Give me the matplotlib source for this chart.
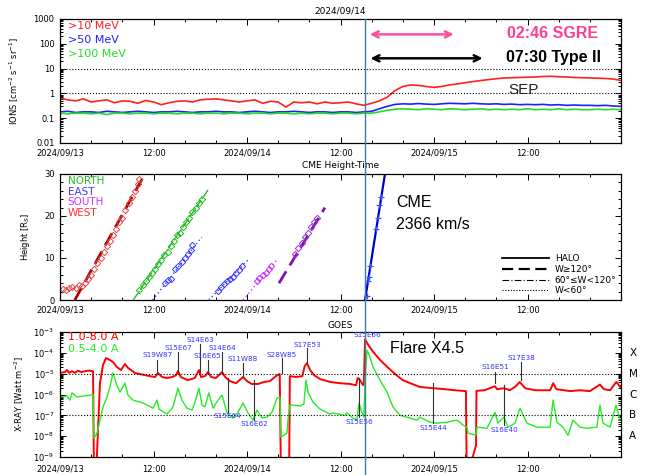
import matplotlib
matplotlib.use("Agg")
import matplotlib.pyplot as plt
from matplotlib.lines import Line2D
from matplotlib.transforms import blended_transform_factory
import numpy as np

# time axis: hours since 2024/09/13 00:00
tick_hours = [0, 12, 24, 36, 48, 60, 72]
tick_labels = ["2024/09/13", "12:00", "2024/09/14", "12:00", "2024/09/15", "12:00", ""]
flare_hour = 39.15

# ---- proton fluxes (hourly) ----
p_hours = list(range(73))
p10 = [0.65, 0.55, 0.5, 0.6, 0.45, 0.5, 0.55, 0.42, 0.5, 0.48, 0.4, 0.52, 0.45, 0.35, 0.42,
       0.48, 0.5, 0.45, 0.55, 0.58, 0.6, 0.55, 0.5, 0.45, 0.5, 0.55, 0.4, 0.48, 0.45, 0.28,
       0.45, 0.42, 0.45, 0.38, 0.45, 0.4, 0.42, 0.45, 0.38, 0.33, 0.4, 0.5, 0.7, 1.3, 1.9,
       2.2, 2.1, 1.9, 1.75, 1.9, 2.2, 2.4, 2.7, 3.0, 3.3, 3.6, 3.9, 4.2, 4.3, 4.4, 4.5, 4.6,
       4.8, 4.9, 4.7, 4.6, 4.4, 4.3, 4.2, 4.1, 4.0, 3.8, 3.3]
p50 = [0.18, 0.19, 0.17, 0.18, 0.18, 0.17, 0.19, 0.18, 0.17, 0.18, 0.19, 0.18, 0.17, 0.18,
       0.18, 0.19, 0.18, 0.17, 0.18, 0.18, 0.19, 0.18, 0.18, 0.17, 0.18, 0.19, 0.18, 0.17,
       0.18, 0.18, 0.19, 0.18, 0.17, 0.18, 0.18, 0.17, 0.18, 0.18, 0.17, 0.18, 0.19, 0.24,
       0.3, 0.36, 0.38, 0.37, 0.39, 0.37, 0.36, 0.38, 0.4, 0.39, 0.38, 0.4, 0.38, 0.37, 0.38,
       0.36, 0.37, 0.35, 0.36, 0.35, 0.36, 0.34, 0.35, 0.33, 0.34, 0.33, 0.33, 0.32, 0.33,
       0.31, 0.3]
p100 = [0.16, 0.15, 0.16, 0.16, 0.15, 0.16, 0.14, 0.16, 0.16, 0.15, 0.16, 0.16, 0.15, 0.16,
        0.16, 0.15, 0.16, 0.16, 0.15, 0.16, 0.16, 0.15, 0.16, 0.16, 0.15, 0.16, 0.16, 0.15,
        0.16, 0.16, 0.15, 0.16, 0.15, 0.16, 0.16, 0.15, 0.16, 0.16, 0.15, 0.16, 0.16, 0.18,
        0.21, 0.23, 0.24, 0.23, 0.22, 0.24, 0.23, 0.22, 0.24, 0.23, 0.22, 0.23, 0.24, 0.22,
        0.23, 0.22, 0.23, 0.22, 0.24, 0.22, 0.23, 0.22, 0.24, 0.22, 0.23, 0.22, 0.22, 0.23,
        0.22, 0.23, 0.22]

# ---- CME height-time ----
west_t = [0.4, 0.8, 1.2, 1.6, 2.0, 2.4, 2.8, 3.2, 3.6, 4.0, 4.4, 4.8, 5.2, 5.6, 6.0, 6.4,
          6.8, 7.2, 7.6, 8.0, 8.4, 8.8, 9.2, 9.6, 10.0, 10.2]
west_h = [2.6, 2.4, 2.9, 3.2, 2.8, 3.5, 3.3, 4.0, 5.0, 6.0, 7.5, 8.8, 10.0, 11.5, 12.8, 14.0,
          15.5, 17.0, 18.5, 19.5, 21.5, 23.0, 24.5, 26.0, 27.5, 28.8]
west_fit = ([1.9, 11.2], [0.0, 31.0])
north_t = [10.2, 10.6, 11.0, 11.4, 11.8, 12.2, 12.6, 13.0, 13.4, 13.8, 14.2, 14.6, 15.0,
           15.4, 15.8, 16.2, 16.6, 17.0, 17.4, 17.8, 18.2]
north_h = [2.5, 3.5, 4.5, 5.5, 6.5, 7.5, 8.5, 9.5, 10.8, 11.5, 12.8, 14.0, 15.5, 16.0, 17.5,
           18.5, 19.5, 21.0, 22.0, 23.0, 24.0]
north_fit = ([9.4, 19.0], [0.0, 26.2])
east1_t = [13.5, 13.8, 14.2, 14.8, 15.2, 15.6, 16.0, 16.4, 16.8, 17.0]
east1_h = [4.0, 4.8, 5.0, 7.5, 8.0, 9.0, 10.0, 11.0, 12.0, 13.0]
east1_fit = ([11.9, 18.2], [0.0, 15.0])
east2_t = [20.3, 20.6, 21.0, 21.4, 21.8, 22.2, 22.6, 23.0, 23.4]
east2_h = [2.2, 3.0, 3.8, 4.5, 5.0, 5.5, 6.5, 7.2, 8.2]
east2_fit = ([19.1, 24.1], [0.0, 9.5])
south_t = [25.3, 25.6, 26.0, 26.4, 26.8, 27.1]
south_h = [4.5, 5.2, 6.0, 6.5, 7.5, 8.2]
south_fit = ([23.5, 27.8], [0.0, 9.5])
wide_t = [30.2, 30.6, 31.0, 31.4, 31.8, 32.2, 32.6, 33.0]
wide_h = [11.0, 12.5, 13.5, 15.0, 16.0, 17.5, 18.5, 19.5]
wide_fit = ([28.1, 34.0], [4.0, 22.0])
halo_t = [39.35, 39.55, 39.65, 39.8, 40.6, 40.8, 41.0, 41.2]
halo_h = [1.0, 4.5, 5.5, 8.0, 17.0, 19.5, 22.5, 24.5]
halo_fit = ([39.15, 41.75], [0.0, 30.5])

# ---- GOES X-ray ----
long_t = [0.0, 0.64, 0.9, 1.16, 1.54, 1.93, 2.31, 2.7, 3.2, 3.72, 4.24, 4.36, 4.62, 5.13,
          5.52, 5.9, 6.42, 6.8, 7.3, 7.83, 8.34, 8.73, 9.63, 10.9, 12.2, 12.58, 13.1, 13.7,
          14.4, 14.9, 15.14, 15.5, 16.4, 17.3, 17.84, 18.1, 18.6, 19.0, 19.4, 20.0, 20.4,
          20.8, 21.2, 21.8, 22.6, 23.2, 23.5, 24.0, 24.6, 25.4, 26.2, 26.95, 27.7, 28.2,
          28.36, 29.4, 29.5, 30.3, 31.1, 31.4, 31.7, 32.1, 32.6, 33.4, 34.65, 35.9, 37.2,
          38.0, 38.2, 38.5, 38.9, 39.0, 39.15, 39.5, 40.2, 41.1, 42.0, 43.0, 44.0, 45.2,
          46.2, 47.9, 49.4, 50.7, 52.1, 52.2, 53.4, 53.45, 54.5, 55.8, 56.1, 57.0, 57.75,
          58.5, 59.0, 59.7, 61.0, 62.9, 63.3, 63.7, 65.5, 66.7, 68.0, 69.3, 69.8, 70.6,
          71.4, 71.9]
long_f = [1.1e-5, 1.2e-5, 1.5e-5, 1.1e-5, 1.3e-5, 1.1e-5, 1.4e-5, 1.2e-5, 1.3e-5, 1.4e-5,
          1.3e-5, 1e-10, 1e-10, 3.5e-6, 2.6e-5, 5.6e-5, 4.5e-5, 3.6e-5, 2.1e-5, 1.5e-5,
          2.9e-5, 1.9e-5, 1.07e-5, 8.5e-6, 6.9e-6, 1.07e-5, 6.9e-6, 6.2e-6, 6.9e-6, 8.5e-6,
          1.33e-5, 6.9e-6, 4.9e-6, 6.2e-6, 1.5e-5, 6.9e-6, 7.6e-6, 1.2e-5, 6.9e-6, 6.2e-6,
          8.5e-6, 1.2e-5, 6.9e-6, 4.4e-6, 3.5e-6, 5.5e-6, 6.9e-6, 4.4e-6, 3.2e-6, 3.2e-6,
          4.0e-6, 4.4e-6, 7.6e-6, 9.6e-6, 1e-10, 1e-10, 7.6e-6, 6.9e-6, 7.6e-6, 2.3e-5,
          3.2e-5, 1.5e-5, 8.5e-6, 5.5e-6, 4.0e-6, 3.5e-6, 3.2e-6, 2.8e-6, 6.2e-6, 4.9e-6,
          2.8e-6, 3.2e-6, 4.5e-4, 2.6e-4, 1.1e-4, 4.5e-5, 2.1e-5, 9.6e-6, 4.9e-6, 3.2e-6,
          2.3e-6, 2.0e-6, 1.8e-6, 1.6e-6, 1.45e-6, 1e-10, 3.7e-9, 1.5e-6, 1.6e-6, 2.5e-6,
          1.8e-6, 2.0e-6, 1.6e-6, 2.5e-6, 4.0e-6, 2.0e-6, 1.6e-6, 1.6e-6, 3.5e-6, 1.8e-6,
          1.45e-6, 1.6e-6, 1.45e-6, 3.0e-6, 1.8e-6, 1.6e-6, 4.0e-6, 2.3e-6]
short_t = [0.0, 0.9, 1.28, 1.54, 2.18, 2.95, 3.85, 4.24, 4.36, 4.75, 5.13, 5.52, 6.03, 6.42,
           6.8, 7.3, 7.7, 8.34, 8.73, 9.37, 10.65, 11.94, 12.45, 12.7, 13.73, 14.5, 15.14,
           15.66, 16.3, 16.94, 17.33, 17.84, 18.22, 18.6, 19.1, 19.64, 20.28, 20.8, 21.43,
           22.2, 22.84, 23.49, 24.13, 24.77, 25.28, 25.92, 26.56, 27.2, 27.85, 28.23, 28.36,
           29.13, 29.26, 29.51, 29.9, 30.8, 31.3, 31.57, 31.83, 32.47, 33.37, 34.65, 35.04,
           36.58, 36.83, 37.6, 38.1, 38.37, 38.75, 39.0, 39.14, 39.4, 39.79, 40.17, 41.07,
           41.97, 42.74, 43.64, 44.92, 45.82, 46.2, 47.49, 48.38, 49.67, 50.95, 51.72, 52.23,
           52.36, 53.39, 53.52, 54.8, 55.83, 56.2, 56.98, 57.5, 58.4, 59.04, 59.93, 61.2,
           62.9, 63.27, 63.78, 64.55, 65.2, 65.84, 66.74, 67.6, 68.9, 69.3, 69.7, 70.6,
           71.36, 71.87]
short_f = [7.5e-7, 8.5e-7, 5.4e-7, 1.2e-6, 7.5e-7, 8.5e-7, 9.3e-7, 1.0e-6, 8e-9, 1.4e-8,
           5.9e-8, 2.5e-7, 7.5e-7, 2.3e-6, 1.07e-5, 2.8e-6, 1.3e-6, 3.5e-6, 9.3e-7, 5.4e-7,
           3.9e-7, 2.2e-7, 5.4e-7, 2.0e-7, 1.15e-7, 2.5e-7, 2.0e-6, 5.4e-7, 2.2e-7, 1.8e-7,
           4.3e-7, 2.0e-6, 3.1e-7, 2.5e-7, 1.2e-6, 2.2e-7, 5.4e-7, 9.3e-7, 1.3e-7, 7.4e-8,
           1.4e-7, 3.9e-7, 1.3e-7, 5.9e-8, 1.8e-7, 7.4e-8, 8.2e-8, 1.4e-7, 6.7e-7, 7.5e-7,
           9e-9, 1.4e-8, 5.9e-8, 3.1e-7, 3.1e-7, 2.8e-7, 3.5e-7, 4.9e-6, 1.3e-6, 4.3e-7,
           2.0e-7, 1.15e-7, 1.3e-7, 1.0e-7, 1.3e-7, 7.4e-8, 5.9e-8, 3.9e-7, 1.3e-7, 8.2e-8,
           4.0e-6, 1.36e-4, 6.3e-5, 2.1e-5, 4.9e-6, 1.3e-6, 2.5e-7, 1.0e-7, 7.4e-8, 5.9e-8,
           8.2e-8, 4.7e-8, 4.2e-8, 4.7e-8, 5.9e-8, 3.4e-8, 2.7e-8, 1.4e-8, 1.1e-8, 2.7e-8,
           2.4e-8, 1.4e-7, 4.2e-8, 8.2e-8, 2.7e-8, 4.2e-8, 2.2e-7, 4.2e-8, 2.7e-8, 2.7e-8,
           5.4e-7, 4.7e-8, 2.7e-8, 1.1e-8, 5.9e-8, 2.7e-8, 2.4e-8, 2.7e-8, 3.1e-7, 4.2e-8,
           2.7e-8, 3.1e-7, 5.9e-8]

# active region labels: name, hour, label flux, line from, line to
region_names = ["S19W87", "S15E67", "S14E63", "S16E65", "S14E64", "S11W88", "S28W85",
                "S17E53", "S15E56", "S16E51", "S17E38",
                "S15E64", "S16E62", "S15E56", "S15E44", "S16E40"]
region_hours = [12.5, 15.14, 17.97, 18.95, 20.8, 23.49, 28.5, 31.7, 39.4, 55.83, 59.2,
                21.5, 24.9, 38.37, 47.87, 57.0]
region_text_f = [7.8e-5, 1.7e-4, 4.1e-4, 7.0e-5, 1.7e-4, 5.0e-5, 7.8e-5, 2.4e-4, 7.2e-4,
                 2.1e-5, 5.6e-5, 9.2e-8, 3.8e-8, 4.7e-8, 2.4e-8, 1.9e-8]
region_line_a = [4.5e-5, 1.1e-4, 2.6e-4, 4.5e-5, 1.1e-4, 3.2e-5, 5.6e-5, 1.7e-4, None,
                 1.2e-5, 3.6e-5, 6.2e-6, 4.9e-6, 6.2e-6, 3.5e-6, 2.8e-6]
region_line_b = [1.07e-5, 1.2e-5, 1.2e-5, 1.07e-5, 1.07e-5, 6.9e-6, 1.07e-5, 3.2e-5, None,
                 3.5e-6, 4.9e-6, 1.4e-7, 5.9e-8, 8.2e-8, 4.2e-8, 3.4e-8]

goes_classes = ["X", "M", "C", "B", "A"]
goes_levels = [1e-4, 1e-5, 1e-6, 1e-7, 1e-8]

plt.rcParams['font.family'] = ['DejaVu Sans']
fig = plt.figure(figsize=(6.47, 4.75), dpi=100)
L, W = 60 / 647, 561 / 647
ax1 = fig.add_axes([L, 1 - 143 / 475, W, 124 / 475])
ax2 = fig.add_axes([L, 1 - 300 / 475, W, 126 / 475])
ax3 = fig.add_axes([L, 1 - 457 / 475, W, 125 / 475])


def time_axis(ax, pad=4):
    ax.set_xlim(0, 72)
    ax.set_xticks(tick_hours)
    ax.set_xticklabels(tick_labels)
    ax.set_xticks(np.arange(0, 73, 4), minor=True)
    ax.tick_params(which='both', direction='in', top=True, right=True, labelsize=6,
                   width=0.7, pad=4)
    ax.tick_params(axis='x', which='both', pad=pad)
    ax.tick_params(which='major', length=4)
    ax.tick_params(which='minor', length=2)
    for s in ax.spines.values():
        s.set_linewidth(0.9)


# top: ions
ax1.plot(p_hours, p10, color='#ff2020', lw=1.2)
ax1.plot(p_hours, p50, color='#2020ff', lw=1.2)
ax1.plot(p_hours, p100, color='#22dd22', lw=1.2)
ax1.set_yscale('log')
ax1.set_ylim(0.01, 1000)
ax1.set_yticks([0.01, 0.1, 1, 10, 100, 1000])
ax1.set_yticklabels(["0.01", "0.1", "1", "10", "100", "1000"])
for lev in [1, 10]:
    ax1.axhline(lev, color='k', ls=':', lw=0.8)
time_axis(ax1)
ax1.set_title("2024/09/14", fontsize=6.5, pad=4)
ax1.set_ylabel(r"IONS [cm$^{-2}$ s$^{-1}$ sr$^{-1}$]", fontsize=6)
ax1.yaxis.set_label_coords(-0.07, 0.5)
for txt, c, y in [(">10 MeV", '#ff2020', 0.94), (">50 MeV", '#2020ff', 0.83),
                  (">100 MeV", '#22dd22', 0.72)]:
    ax1.text(0.014, y, txt, color=c, fontsize=8, transform=ax1.transAxes, va='center')
ax1.annotate('', xy=(50.9, 240), xytext=(39.4, 240),
             arrowprops=dict(arrowstyle='<->', color='#ff4fa3', lw=1.8, mutation_scale=11))
ax1.annotate('', xy=(54.6, 26), xytext=(39.5, 26),
             arrowprops=dict(arrowstyle='<->', color='black', lw=1.8, mutation_scale=11))
ax1.text(57.4, 255, "02:46 SGRE", color='#ff3d98', fontsize=11.5, fontweight='bold',
         family='Liberation Sans', va='center')
ax1.text(57.25, 29, "07:30 Type II", color='black', fontsize=11.5, fontweight='bold',
         family='Liberation Sans', va='center')
ax1.text(57.5, 1.37, "SEP", color='#222222', fontsize=11, family='Liberation Sans',
         va='center')

# middle: CME height-time
cmes = [
    (west_t, west_h, west_fit, '#e04848', '#b00000', (0, (5, 2.5)), 2.0, 'D'),
    (north_t, north_h, north_fit, '#22bb22', '#22bb22', (0, (6, 1, 1, 1)), 1.0, 'D'),
    (east1_t, east1_h, east1_fit, '#3a3aff', '#3a3aff', (0, (1, 2)), 1.0, 'D'),
    (east2_t, east2_h, east2_fit, '#3a3aff', '#3a3aff', (0, (1, 2)), 1.0, 'D'),
    (south_t, south_h, south_fit, '#cc33ff', '#cc33ff', (0, (1, 2)), 1.0, 'D'),
    (wide_t, wide_h, wide_fit, '#9933cc', '#7a10b8', (0, (5, 2.5)), 2.0, 'D'),
    (halo_t, halo_h, halo_fit, '#3355ff', '#0000cc', '-', 1.6, '+'),
]
for t, h, fit, pc, lc, ls, lw, mk in cmes:
    ax2.plot(fit[0], fit[1], color=lc, ls=ls, lw=lw)
    if mk == 'D':
        ax2.plot(t, h, ls='none', marker='D', ms=3.2, mfc='none', mec=pc, mew=0.7)
    else:
        ax2.plot(t, h, ls='none', marker='+', ms=4, mec=pc, mew=0.9)
ax2.set_ylim(0, 30)
ax2.set_yticks([0, 10, 20, 30])
ax2.set_yticks(np.arange(0, 31, 2), minor=True)
time_axis(ax2)
ax2.set_title("CME Height-Time", fontsize=6.5, pad=4)
ax2.set_ylabel(r"Height [R$_S$]", fontsize=6)
ax2.yaxis.set_label_coords(-0.05, 0.5)
for txt, c, y in [("NORTH", '#22bb22', 0.944), ("EAST", '#3a3aff', 0.86),
                  ("SOUTH", '#cc33ff', 0.776), ("WEST", '#ff3030', 0.692)]:
    ax2.text(0.014, y, txt, color=c, fontsize=7.5, transform=ax2.transAxes, va='center')
ax2.text(43.1, 23.1, "CME", fontsize=11.5, family='Liberation Sans', va='center')
ax2.text(43.1, 17.9, "2366 km/s", fontsize=11.5, family='Liberation Sans', va='center')
handles = [Line2D([], [], color='k', lw=1.3, ls='-'),
           Line2D([], [], color='k', lw=1.6, ls=(0, (5, 2.5))),
           Line2D([], [], color='k', lw=0.8, ls=(0, (6, 2, 1, 2))),
           Line2D([], [], color='k', lw=0.8, ls=(0, (1, 1.5)))]
ax2.legend(handles, ["HALO", "W\u2265120\u00b0", "60\u00b0\u2264W<120\u00b0", "W<60\u00b0"],
           loc='lower right', frameon=False, fontsize=6.5, handlelength=5.2,
           labelspacing=0.2, borderaxespad=0.1, handletextpad=0.6)

# bottom: GOES
ax3.plot(long_t, long_f, color='red', lw=1.4)
ax3.plot(short_t, short_f, color='#22ee22', lw=1.0)
ax3.set_yscale('log')
ax3.set_ylim(1e-9, 1e-3)
ax3.set_yticks([1e-9, 1e-8, 1e-7, 1e-6, 1e-5, 1e-4, 1e-3])
for lev in [1e-5, 1e-7]:
    ax3.axhline(lev, color='k', ls=':', lw=0.8)
time_axis(ax3, pad=5.5)
ax3.set_title("GOES", fontsize=6.5, pad=3)
ax3.set_ylabel(r"X-RAY [Watt m$^{-2}$]", fontsize=6)
ax3.yaxis.set_label_coords(-0.06, 0.5)
ax3.text(0.014, 0.962, "1.0-8.0 A", color='red', fontsize=8, transform=ax3.transAxes,
         va='center')
ax3.text(0.014, 0.862, "0.5-4.0 A", color='#22ee22', fontsize=8, transform=ax3.transAxes,
         va='center')
rtrans = blended_transform_factory(ax3.transAxes, ax3.transData)
for cls, lev in zip(goes_classes, goes_levels):
    ax3.text(1.015, lev, cls, transform=rtrans, fontsize=7.5, va='center', ha='left')
for name, t, ft, fa, fb in zip(region_names, region_hours, region_text_f, region_line_a,
                               region_line_b):
    ax3.text(t, ft, name, color='#3333ff', fontsize=5.2, ha='center', va='center')
    if fa is not None:
        ax3.plot([t, t], [fa, fb], color='#333333', lw=0.8)
ax3.text(42.4, 1.7e-4, "Flare X4.5", fontsize=11.5, family='Liberation Sans', va='center')

# flare time marker across panels
vtrans = blended_transform_factory(ax1.transData, fig.transFigure)
fig.add_artist(Line2D([flare_hour, flare_hour], [0, 1 - 19 / 475], transform=vtrans,
                      color='#3b7ea1', lw=1.0))

fig.savefig("out.png", dpi=100)
